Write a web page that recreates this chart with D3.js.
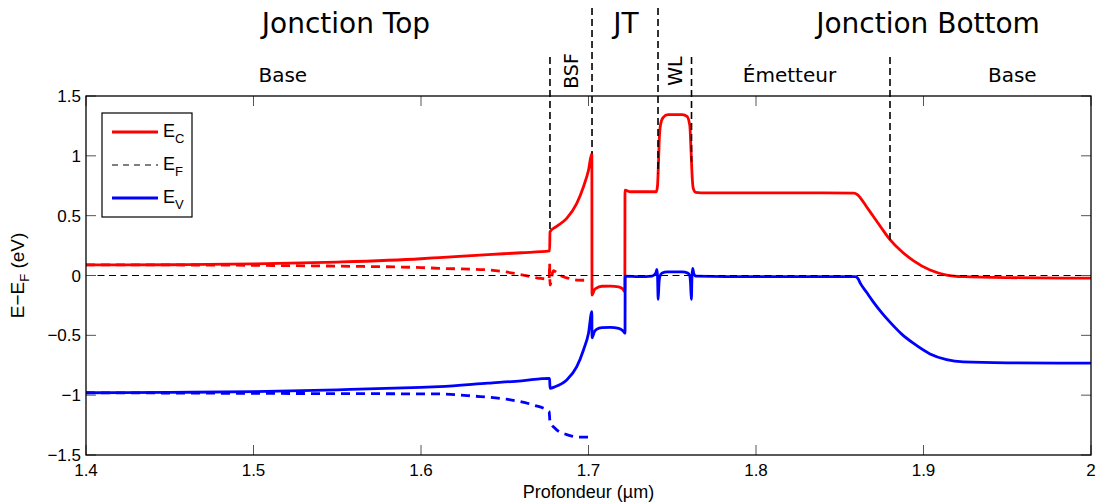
<!DOCTYPE html>
<html><head><meta charset="utf-8">
<script src="https://cdn.jsdelivr.net/npm/d3@7/dist/d3.min.js"></script>
<style>body{margin:0;background:#fff}svg{display:block}</style>
</head><body><svg id="c" width="1096" height="504"></svg>
<script>
// ---- data ----
const xTicks = [1.4, 1.5, 1.6, 1.7, 1.8, 1.9, 2.0];
const xTickLabels = ["1.4", "1.5", "1.6", "1.7", "1.8", "1.9", "2"];
const yTicks = [1.5, 1, 0.5, 0, -0.5, -1, -1.5];
const yTickLabels = ["1.5", "1", "0.5", "0", "\u22120.5", "\u22121", "\u22121.5"];

const ecPoints = [[1.400,0.088],[1.450,0.090],[1.500,0.097],[1.550,0.112],[1.600,0.140],[1.611,0.150],[1.640,0.175],[1.660,0.190],[1.6768,0.205],
 [1.6770,0.366],[1.681,0.41],[1.687,0.478],[1.693,0.603],[1.697,0.742],[1.700,0.88],[1.7020,1.02],
 [1.7021,-0.163],[1.7035,-0.12],[1.7045,-0.107],[1.708,-0.09],[1.713,-0.088],[1.718,-0.095],[1.7205,-0.113],[1.7217,-0.135],
 [1.7218,0.714],[1.725,0.70],[1.735,0.70],[1.7405,0.70],[1.7412,0.75],[1.7418,0.95],[1.7423,1.15],[1.743,1.26],[1.7445,1.32],[1.7475,1.345],[1.756,1.345],[1.7588,1.33],[1.7605,1.25],[1.7612,1.05],[1.7618,0.85],[1.7625,0.73],[1.764,0.695],[1.770,0.69],[1.800,0.69],[1.840,0.69],
 [1.8585,0.688],[1.8605,0.675],[1.8625,0.645],[1.866,0.575],[1.870,0.495],[1.875,0.395],[1.880,0.300],[1.887,0.200],[1.8939,0.125],[1.9039,0.046],[1.9138,0.004],[1.9238,-0.01],[1.95,-0.018],[2.0,-0.022]];

const evPoints = [[1.400,-0.980],[1.450,-0.977],[1.500,-0.970],[1.550,-0.955],[1.600,-0.935],[1.611,-0.929],[1.640,-0.90],[1.660,-0.88],[1.6768,-0.859],
 [1.6770,-0.942],[1.680,-0.93],[1.687,-0.873],[1.693,-0.762],[1.697,-0.622],[1.700,-0.483],[1.7020,-0.302],
 [1.7021,-0.52],[1.7035,-0.47],[1.7048,-0.45],[1.708,-0.435],[1.713,-0.433],[1.718,-0.441],[1.7205,-0.461],[1.7218,-0.483],
 [1.7219,-0.005],[1.730,-0.01],[1.738,-0.005],[1.7402,0.02],[1.7408,0.05],[1.7412,0.0],[1.7416,-0.2],[1.7421,-0.06],[1.7428,0.0],[1.744,0.02],[1.747,0.03],[1.756,0.03],[1.7593,0.02],[1.7604,0.0],[1.7609,-0.06],[1.7614,-0.2],[1.7618,0.0],[1.7622,0.06],[1.7628,0.02],[1.764,-0.005],[1.800,-0.01],
 [1.8591,-0.01],[1.8608,-0.025],[1.8625,-0.07],[1.866,-0.14],[1.870,-0.22],[1.875,-0.31],[1.880,-0.39],[1.887,-0.49],[1.8939,-0.566],[1.9039,-0.655],[1.9138,-0.703],[1.9238,-0.722],[1.95,-0.73],[2.0,-0.733]];

const efnPoints = [[1.400,0.088],[1.450,0.088],[1.500,0.085],[1.550,0.078],[1.600,0.066],[1.611,0.06],[1.641,0.046],[1.661,0.004],[1.671,-0.023],[1.6765,-0.03],[1.6768,0.10],[1.6770,-0.08],[1.679,0.04],[1.683,0.0],[1.688,-0.023],[1.693,-0.038],[1.6995,-0.04]];

const efpPoints = [[1.400,-0.980],[1.450,-0.982],[1.500,-0.985],[1.550,-0.987],[1.611,-0.99],[1.631,-1.007],[1.651,-1.034],[1.667,-1.082],[1.6765,-1.138],[1.6770,-1.22],[1.680,-1.277],[1.687,-1.33],[1.695,-1.35],[1.700,-1.35]];

const fermiLevel = 0;
const boundaries = [1.677, 1.7021, 1.7415, 1.7615, 1.880];
const boundaryTall = [false, true, true, false, false];
const regionLabels = [
  {text:"Base", x:1.5175, rot:false},
  {text:"BSF", x:1.6895, rot:true},
  {text:"WL", x:1.7515, rot:true},
  {text:"\u00c9metteur", x:1.8200, rot:false},
  {text:"Base", x:1.9530, rot:false}];
const junctionLabels = [
  {text:"Jonction Top", x:1.5552},
  {text:"JT", x:1.7223},
  {text:"Jonction Bottom", x:1.9027}];
const legendNames = [["E","C"],["E","F"],["E","V"]];

// ---- layout ----
const W = 1096, H = 504;
const m = {left:86, right:5, top:96, bottom:49};
const svg = d3.select("#c");
const x = d3.scaleLinear().domain([1.4, 2.0]).range([m.left, W - m.right]);
const y = d3.scaleLinear().domain([-1.5, 1.5]).range([H - m.bottom, m.top]);
const axisFont = "'Liberation Sans', Arial, sans-serif";
const labelFont = "'DejaVu Sans', sans-serif";

const line = d3.line().x(d => x(d[0])).y(d => y(d[1])).curve(d3.curveMonotoneX);
const g = svg.append("g");

// curves
g.append("path").attr("d", line(efnPoints)).attr("fill","none").attr("stroke","#ff0000").attr("stroke-width",2.8).attr("stroke-dasharray","9,6");
g.append("path").attr("d", line(efpPoints)).attr("fill","none").attr("stroke","#0000ff").attr("stroke-width",2.8).attr("stroke-dasharray","9,6");
g.append("path").attr("d", line(ecPoints)).attr("fill","none").attr("stroke","#ff0000").attr("stroke-width",2.8).attr("stroke-linejoin","round");
g.append("path").attr("d", line(evPoints)).attr("fill","none").attr("stroke","#0000ff").attr("stroke-width",2.8).attr("stroke-linejoin","round");

// Fermi level
g.append("line").attr("x1", x(1.4)).attr("x2", x(2.0)).attr("y1", y(fermiLevel)).attr("y2", y(fermiLevel))
  .attr("stroke","#000").attr("stroke-width",1.2).attr("stroke-dasharray","7,4.5");

// boundary lines, from label row down to Ec
function ecAt(v){
  for (let i=1;i<ecPoints.length;i++){
    if (ecPoints[i][0] >= v){ const a=ecPoints[i-1], b=ecPoints[i]; return a[1]+(b[1]-a[1])*(v-a[0])/(b[0]-a[0]); }
  }
  return ecPoints[ecPoints.length-1][1];
}
boundaries.forEach((b,i) => {
  const yEnd = (i===1) ? y(1.02) : y(ecAt(b + (i===0 ? 0.0002 : 0)));
  g.append("line").attr("x1", x(b)).attr("x2", x(b)).attr("y1", boundaryTall[i] ? 8 : 57).attr("y2", yEnd)
   .attr("stroke","#000").attr("stroke-width",1.6).attr("stroke-dasharray","7,4");
});

// axes box + ticks
const tickCol = "#555";
xTicks.forEach(t => {
  g.append("line").attr("x1",x(t)).attr("x2",x(t)).attr("y1",y(-1.5)).attr("y2",y(-1.5)-10).attr("stroke",tickCol).attr("stroke-width",1);
  g.append("line").attr("x1",x(t)).attr("x2",x(t)).attr("y1",y(1.5)).attr("y2",y(1.5)+10).attr("stroke",tickCol).attr("stroke-width",1);
});
yTicks.forEach(t => {
  g.append("line").attr("x1",x(1.4)).attr("x2",x(1.4)+10).attr("y1",y(t)).attr("y2",y(t)).attr("stroke",tickCol).attr("stroke-width",1);
  g.append("line").attr("x1",x(2.0)).attr("x2",x(2.0)-10).attr("y1",y(t)).attr("y2",y(t)).attr("stroke",tickCol).attr("stroke-width",1);
});
g.append("rect").attr("x", x(1.4)).attr("y", y(1.5)).attr("width", x(2.0)-x(1.4)).attr("height", y(-1.5)-y(1.5))
  .attr("fill","none").attr("stroke","#000").attr("stroke-width",1.3);

xTicks.forEach((t,i) => {
  g.append("text").attr("x", x(t)).attr("y", y(-1.5)+21).attr("text-anchor","middle")
   .attr("font-family",axisFont).attr("font-size",17).text(xTickLabels[i]);
});
yTicks.forEach((t,i) => {
  g.append("text").attr("x", x(1.4)-5).attr("y", y(t)+6).attr("text-anchor","end")
   .attr("font-family",axisFont).attr("font-size",17).text(yTickLabels[i]);
});

// axis titles
g.append("text").attr("x", x(1.7)).attr("y", 498).attr("text-anchor","middle")
  .attr("font-family",axisFont).attr("font-size",18).text("Profondeur (\u00b5m)");
const yl = g.append("text").attr("transform","translate(24," + y(0) + ") rotate(-90)").attr("text-anchor","middle")
  .attr("font-family",axisFont).attr("font-size",19);
yl.append("tspan").text("E\u2212E");
yl.append("tspan").attr("font-size",13).attr("dy",5).text("F");
yl.append("tspan").attr("dy",-5).text(" (eV)");

// top labels
junctionLabels.forEach(d => {
  g.append("text").attr("x", x(d.x)).attr("y", 33).attr("text-anchor","middle")
   .attr("font-family",labelFont).attr("font-size",28).text(d.text);
});
regionLabels.forEach(d => {
  if (d.rot) {
    g.append("text").attr("transform","translate(" + (x(d.x)+7) + ",71) rotate(-90)").attr("text-anchor","middle")
     .attr("font-family",labelFont).attr("font-size",19).text(d.text);
  } else {
    g.append("text").attr("x", x(d.x)).attr("y", 82).attr("text-anchor","middle")
     .attr("font-family",labelFont).attr("font-size",20).text(d.text);
  }
});

// legend
const lg = g.append("g");
lg.append("rect").attr("x",102).attr("y",113).attr("width",90).attr("height",104).attr("fill","#fff").attr("stroke","#000").attr("stroke-width",1.2);
const legStyles = [{c:"#ff0000",w:2.8,d:null},{c:"#000",w:1.2,d:"6,5"},{c:"#0000ff",w:2.8,d:null}];
legendNames.forEach((n,i) => {
  const ly = 132 + i*33;
  const l = lg.append("line").attr("x1",112).attr("x2",158).attr("y1",ly).attr("y2",ly).attr("stroke",legStyles[i].c).attr("stroke-width",legStyles[i].w);
  if (legStyles[i].d) l.attr("stroke-dasharray",legStyles[i].d);
  const t = lg.append("text").attr("x",163).attr("y",ly+5).attr("font-family",axisFont).attr("font-size",18);
  t.append("tspan").text(n[0]);
  t.append("tspan").attr("font-size",13).attr("dy",6).text(n[1]);
});
</script></body></html>
